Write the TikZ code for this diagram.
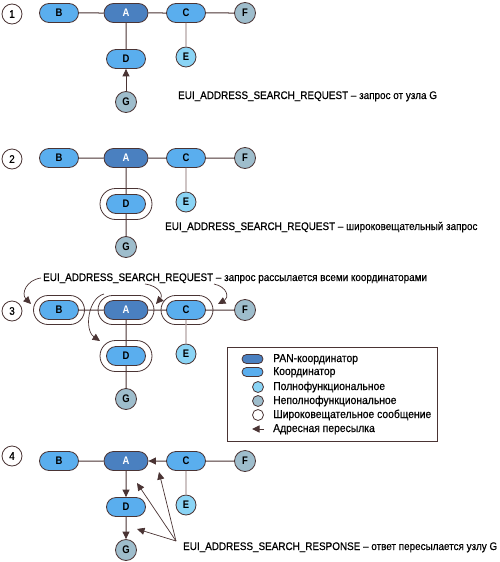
\documentclass[tikz,border=0pt]{standalone}
\usepackage{fontspec}
\setmainfont{Liberation Sans}[FakeStretch=0.86]
\newfontfamily\txtfont{Liberation Sans}[FakeStretch=0.9, FakeBold=0.5]
\usetikzlibrary{shapes.misc,arrows.meta}
\definecolor{pancol}{HTML}{4A80C0}
\definecolor{coordcol}{HTML}{5AAEEE}
\definecolor{ffdcol}{HTML}{8AD4F5}
\definecolor{rfdcol}{HTML}{9EBDCC}
\definecolor{linecol}{HTML}{4A3434}
\definecolor{greylink}{HTML}{B5A5A5}
\tikzset{
 nodebase/.style={draw=linecol, line width=0.8pt, inner sep=0pt, font=\fontsize{11}{12}\selectfont\bfseries},
 pan/.style={nodebase, rounded rectangle, fill=pancol, minimum width=44pt, minimum height=19pt, text=white},
 coordn/.style={nodebase, rounded rectangle, fill=coordcol, minimum width=39pt, minimum height=19pt},
 ffd/.style={nodebase, circle, fill=ffdcol, minimum size=20pt},
 rfd/.style={nodebase, circle, fill=rfdcol, minimum size=21pt},
 num/.style={draw=linecol, line width=0.8pt, circle, fill=white, minimum size=20pt, inner sep=0pt, font=\txtfont\fontsize{11}{13}\selectfont},
 ring/.style={draw=linecol, line width=0.8pt, rounded rectangle, fill=white, inner sep=0pt},
 link/.style={draw=linecol, line width=1pt},
 paler/.style={draw=greylink, line width=1.2pt},
 fwd/.style={link, -{Triangle[length=7.5pt,width=7pt]}},
 note/.style={draw=linecol, line width=0.7pt, -{Triangle[length=7.5pt,width=7pt]}},
 txt/.style={anchor=west, inner sep=0pt, text height=8pt, text depth=2pt, font=\txtfont\fontsize{11}{13}\selectfont},
 ltxt/.style={txt, font=\txtfont\fontsize{11.5}{13}\selectfont},
}
\newcommand\netnodes[2]{%
  \node[coordn] (B#1) at (59,{13+#2}) {B};
  \node[pan] (A#1) at (126,{13+#2}) {A};
  \node[coordn] (C#1) at (186,{13+#2}) {C};
  \node[rfd] (F#1) at (245,{13+#2}) {F};
  \node[ffd] (E#1) at (186,{57+#2}) {E};
  \node[coordn] (D#1) at (126,{59+#2}) {D};
  \node[rfd] (G#1) at (126,{102+#2}) {G};
}
\begin{document}
\begin{tikzpicture}[x=1pt,y=-1pt]
\useasboundingbox (0,0) rectangle (500,562);
\fill[white] (0,0) rectangle (500,562);

% ---------- section 1
\node[num] (n1) at (12,14) {1};
\netnodes{1}{0}
\draw[link] (B1) -- (A1);
\draw[link] (A1) -- (C1);
\draw[link] (C1) -- (F1);
\draw[paler] (C1) -- (E1);
\draw[link] (A1) -- (D1);
\draw[fwd] (G1) -- (D1);
\node[txt] (t1) at (178,96) {EUI\_ADDRESS\_SEARCH\_REQUEST – запрос от узла G};

% ---------- section 2
\node[num] (n2) at (12,159) {2};
\node[ring, minimum width=52pt, minimum height=31pt] (rD2) at (126,204) {};
\netnodes{2}{145}
\draw[link] (B2) -- (A2);
\draw[link] (A2) -- (C2);
\draw[link] (C2) -- (F2);
\draw[paler] (C2) -- (E2);
\draw[link] (A2) -- (D2);
\draw[link] (D2) -- (G2);
\node[txt] (t2) at (165,227) {EUI\_ADDRESS\_SEARCH\_REQUEST – широковещательный запрос};

% ---------- section 3
\node[num] (n3) at (12,311) {3};
\node[ring, minimum width=51pt, minimum height=29pt] (rB3) at (59,310) {};
\node[ring, minimum width=56pt, minimum height=29pt] (rA3) at (126,310) {};
\node[ring, minimum width=52pt, minimum height=29pt] (rC3) at (187,310) {};
\node[ring, minimum width=52pt, minimum height=31pt] (rD3) at (126,356) {};
\netnodes{3}{297}
\draw[link] (B3) -- (A3);
\draw[link] (A3) -- (C3);
\draw[link] (C3) -- (F3);
\draw[paler] (C3) -- (E3);
\draw[link] (A3) -- (D3);
\draw[link] (D3) -- (G3);
\node[txt] (t3) at (43,278) {EUI\_ADDRESS\_SEARCH\_REQUEST – запрос рассылается всеми координаторами};
\coordinate (s31) at (41,278);
\coordinate (e31) at (31,304);
\coordinate (s32) at (145,284);
\coordinate (e32) at (156,304);
\coordinate (s33) at (214,284);
\coordinate (e33) at (218,304);
\coordinate (s34) at (104,294);
\coordinate (e34) at (100,341);
\draw[note] (s31) .. controls (26,280) and (21,294) .. (e31);
\draw[note] (s32) .. controls (160,286) and (163,296) .. (e32);
\draw[note] (s33) .. controls (228,287) and (229,298) .. (e33);
\draw[note] (s34) .. controls (88,298) and (84,330) .. (e34);

% ---------- legend
\node[draw=linecol, line width=0.8pt, minimum width=210pt, minimum height=94pt, inner sep=0pt] (legend) at (332,394) {};
\node[pan, minimum width=21pt, minimum height=9pt] (lp) at (252.5,359) {};
\node[coordn, minimum width=21pt, minimum height=9pt] (lc) at (252.5,372) {};
\node[ffd, minimum size=11pt] (lf) at (258,387) {};
\node[rfd, minimum size=11pt] (lr) at (258,401) {};
\node[ring, circle, minimum size=11pt] (lb) at (258,415) {};
\coordinate (la1) at (264,429);
\coordinate (la2) at (252,429);
\draw[fwd] (la1) -- (la2);
\node[ltxt] (lt1) at (273,359) {PAN-координатор};
\node[ltxt] (lt2) at (273,372) {Координатор};
\node[ltxt] (lt3) at (273,387) {Полнофункциональное};
\node[ltxt] (lt4) at (273,401) {Неполнофункциональное};
\node[ltxt] (lt5) at (273,415) {Широковещательное сообщение};
\node[ltxt] (lt6) at (273,429) {Адресная пересылка};

% ---------- section 4
\node[num] (n4) at (12,456) {4};
\netnodes{4}{448}
\draw[link] (B4) -- (A4);
\draw[fwd] (C4) -- (A4);
\draw[link] (C4) -- (F4);
\draw[paler] (C4) -- (E4);
\draw[fwd] (A4) -- (D4);
\draw[fwd] (D4) -- (G4);
\node[txt] (t4) at (183,547) {EUI\_ADDRESS\_SEARCH\_RESPONSE – ответ пересылается узлу G};
\coordinate (c4) at (176,541);
\coordinate (h41) at (159,472);
\coordinate (h42) at (137,483);
\coordinate (h43) at (137,529);
\draw[note] (c4) -- (h41);
\draw[note] (c4) -- (h42);
\draw[note] (c4) -- (h43);
\end{tikzpicture}
\end{document}
